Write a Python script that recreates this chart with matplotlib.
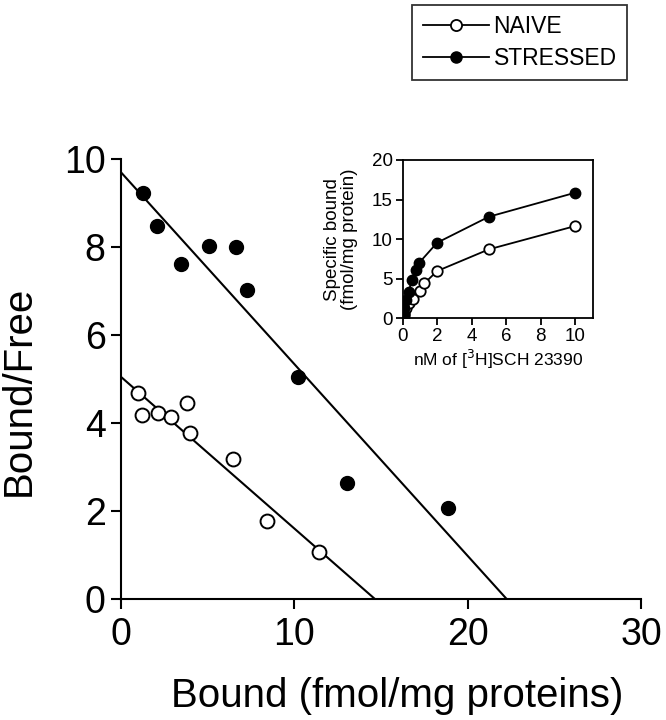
# -*- coding: utf-8 -*-
import matplotlib
matplotlib.use('Agg')

import matplotlib.pyplot as plt
from matplotlib.lines import Line2D


plt.rcParams['font.family'] = ['Liberation Sans', 'DejaVu Sans']

# Scatchard plot (main panel)
naive_bound = [0.96, 1.19, 2.11, 2.87, 3.83, 3.98, 6.46, 8.41, 11.44]
naive_ratio = [4.69, 4.19, 4.22, 4.13, 4.45, 3.77, 3.18, 1.77, 1.07]
stressed_bound = [1.29, 2.1, 3.44, 5.1, 6.64, 7.25, 10.2, 13.04, 18.85]
stressed_ratio = [9.22, 8.48, 7.61, 8.03, 8.01, 7.02, 5.05, 2.64, 2.07]

# regression lines: (y-intercept, x-intercept)
naive_fit = (5.05, 14.65)
stressed_fit = (9.7, 22.25)

# Saturation curves (inset)
naive_conc = [0.05, 0.1, 0.2, 0.35, 0.6, 1.0, 1.25, 2, 5, 10]
naive_specific = [0.3, 0.7, 1.3, 1.9, 2.4, 3.45, 4.4, 5.97, 8.71, 11.65]
stressed_conc = [0.05, 0.1, 0.2, 0.35, 0.52, 0.75, 0.96, 2, 5, 10]
stressed_specific = [0.5, 1.3, 2.3, 3.3, 4.83, 6.1, 7.02, 9.55, 12.83, 15.86]


def main():
    fig = plt.figure(figsize=(6.66, 7.2), dpi=100)

    ax = fig.add_axes([0.1817, 0.168, 0.7808, 0.611])
    ax.plot([0, naive_fit[1]], [naive_fit[0], 0], color='black', lw=1.5)
    ax.plot([0, stressed_fit[1]], [stressed_fit[0], 0], color='black', lw=1.5)
    ax.plot(naive_bound, naive_ratio, 'o', ms=10, mfc='white', mec='black',
            mew=1.4, ls='none', zorder=3)
    ax.plot(stressed_bound, stressed_ratio, 'o', ms=10, mfc='black',
            mec='black', ls='none', zorder=3)
    ax.set_xlim(0, 30)
    ax.set_ylim(0, 10)
    ax.set_xticks([0, 10, 20, 30])
    ax.set_yticks([0, 2, 4, 6, 8, 10])
    ax.spines['top'].set_visible(False)
    ax.spines['right'].set_visible(False)
    ax.spines['left'].set_linewidth(1.5)
    ax.spines['bottom'].set_linewidth(1.5)
    ax.tick_params(direction='out', length=7, width=1.5, labelsize=27)
    ax.tick_params(axis='x', pad=6)
    ax.tick_params(axis='y', pad=4)
    ax.set_xlabel('Bound (fmol/mg proteins)', fontsize=29)
    ax.set_ylabel('Bound/Free', fontsize=29)
    ax.xaxis.set_label_coords(0.531, -0.178)
    ax.yaxis.set_label_coords(-0.16, 0.473)

    ins = fig.add_axes([0.6046, 0.5579, 0.2862, 0.2199])
    ins.plot(naive_conc, naive_specific, '-o', color='black', lw=1.3,
             ms=7.5, mfc='white', mec='black', mew=1.3)
    ins.plot(stressed_conc, stressed_specific, '-o', color='black', lw=1.3,
             ms=7.5, mfc='black', mec='black')
    ins.set_xlim(0, 11.06)
    ins.set_ylim(0, 20)
    ins.set_xticks([0, 2, 4, 6, 8, 10])
    ins.set_yticks([0, 5, 10, 15, 20])
    for sp in ins.spines.values():
        sp.set_linewidth(1.3)
    ins.tick_params(direction='out', length=5, width=1.3, labelsize=13.5,
                    pad=2)
    ins.set_xlabel('nM of [$^3$H]SCH 23390', fontsize=12.5, labelpad=2)
    ins.set_ylabel('Specific bound\n(fmol/mg protein)', fontsize=13.5,
                   labelpad=10, linespacing=1.0)

    handles = [
        Line2D([], [], color='black', lw=1.3, marker='o', ms=8,
               mfc='white', mec='black', mew=1.3),
        Line2D([], [], color='black', lw=1.3, marker='o', ms=8,
               mfc='black', mec='black'),
    ]
    leg = fig.legend(handles, ['NAIVE', 'STRESSED'], loc='upper right',
                     bbox_to_anchor=(627 / 666, 1 - 4.7 / 720),
                     fontsize=16.5, frameon=True, fancybox=False,
                     handlelength=2.9, handletextpad=0.2,
                     borderpad=0.45, labelspacing=0.4, borderaxespad=0)
    leg.get_frame().set_edgecolor('black')
    leg.get_frame().set_linewidth(1.3)

    fig.savefig('out.png', dpi=100)


if __name__ == '__main__':
    main()
